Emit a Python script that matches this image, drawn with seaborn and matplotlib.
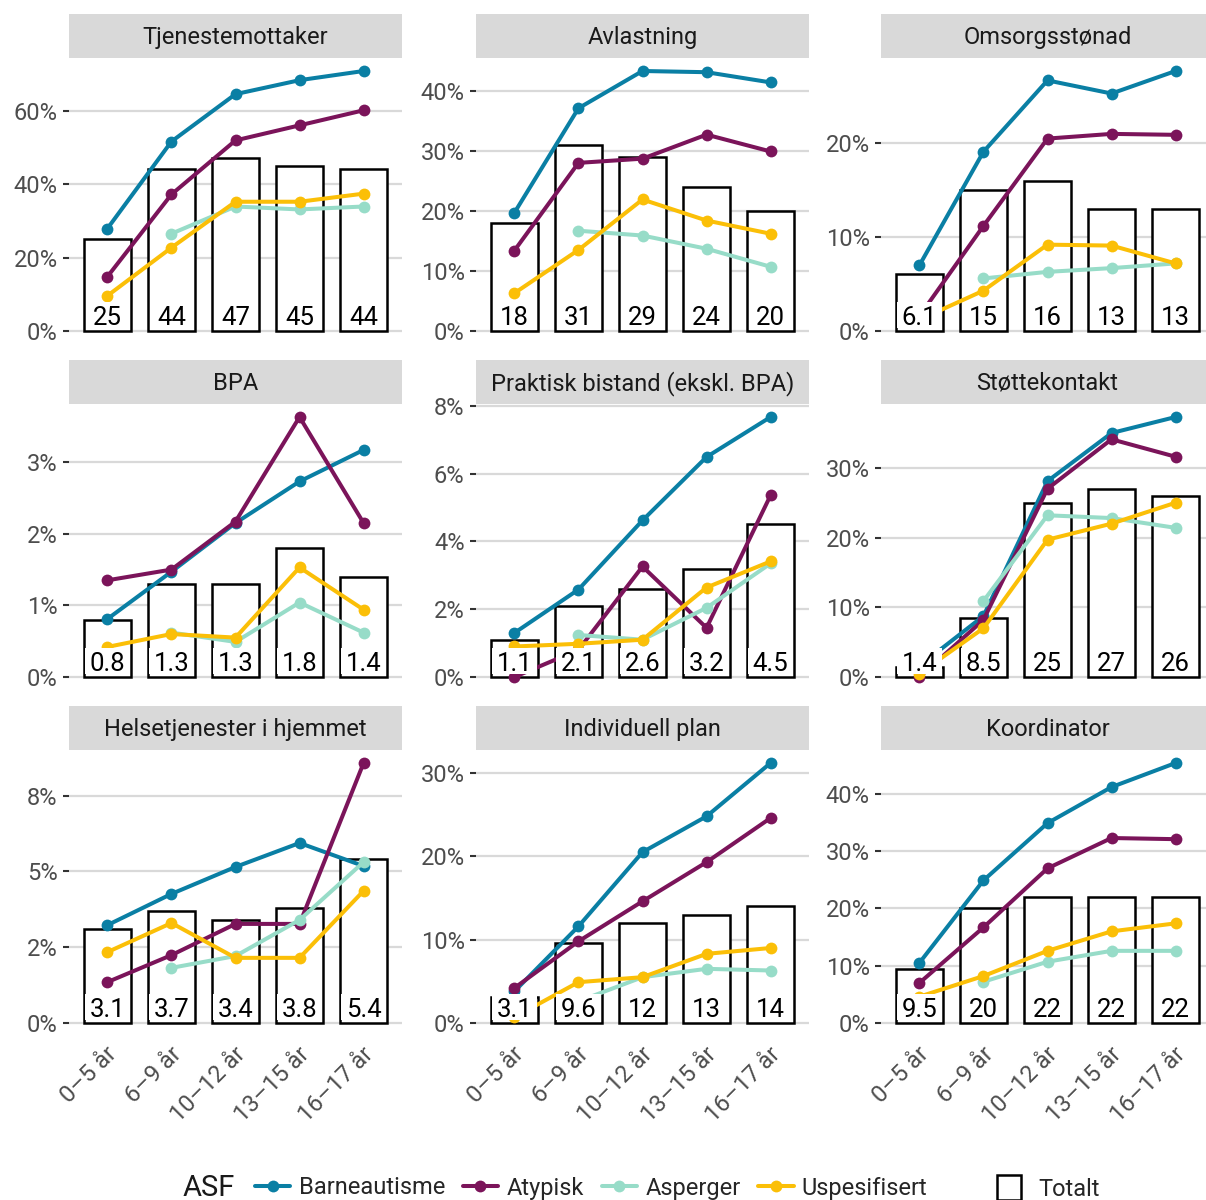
import numpy as np
import pandas as pd
import matplotlib
matplotlib.use("Agg")
import matplotlib.pyplot as plt
from matplotlib.lines import Line2D
from matplotlib.patches import Patch
from matplotlib.path import Path
from matplotlib.ticker import FixedLocator, FuncFormatter
from matplotlib.transforms import ScaledTranslation
import seaborn as sns

# Aldersgrupper og tjenester
ages = ["0–5 år", "6–9 år", "10–12 år", "13–15 år", "16–17 år"]
panels = ["Tjenestemottaker", "Avlastning", "Omsorgsstønad",
          "BPA", "Praktisk bistand (ekskl. BPA)", "Støttekontakt",
          "Helsetjenester i hjemmet", "Individuell plan", "Koordinator"]

grupper = ["Barneautisme", "Atypisk", "Asperger", "Uspesifisert"]
farger = ["#0a7fa4", "#7b145a", "#97dcc8", "#fbbf07"]

nan = np.nan
# Andel (%) per tjeneste (rader) og aldersgruppe (kolonner)
barneautisme = [
    [27.9, 51.6, 64.5, 68.3, 70.8],
    [19.7, 37.1, 43.3, 43.1, 41.4],
    [7.0, 19.1, 26.7, 25.3, 27.7],
    [0.81, 1.47, 2.15, 2.73, 3.17],
    [1.30, 2.58, 4.62, 6.49, 7.67],
    [1.6, 8.75, 28.1, 35.0, 37.3],
    [3.23, 4.26, 5.15, 5.94, 5.18],
    [3.8, 11.6, 20.5, 24.8, 31.2],
    [10.5, 24.9, 34.9, 41.2, 45.4],
]
atypisk = [
    [14.8, 37.2, 51.9, 56.0, 60.1],
    [13.4, 28.0, 28.7, 32.7, 29.9],
    [1.6, 11.2, 20.5, 21.0, 20.9],
    [1.35, 1.50, 2.17, 3.63, 2.15],
    [0.0, 0.8, 3.26, 1.45, 5.36],
    [0.0, 8.2, 27.0, 34.1, 31.6],
    [1.35, 2.24, 3.27, 3.27, 8.58],
    [4.2, 9.8, 14.6, 19.3, 24.6],
    [7.0, 16.7, 27.0, 32.3, 32.1],
]
asperger = [
    [nan, 26.5, 33.9, 33.1, 33.9],
    [nan, 16.7, 15.9, 13.7, 10.7],
    [nan, 5.6, 6.3, 6.7, 7.2],
    [nan, 0.62, 0.49, 1.04, 0.62],
    [nan, 1.24, 1.10, 2.04, 3.35],
    [nan, 10.9, 23.2, 22.8, 21.4],
    [nan, 1.82, 2.21, 3.40, 5.31],
    [nan, 2.6, 5.5, 6.5, 6.3],
    [nan, 7.2, 10.7, 12.6, 12.6],
]
uspesifisert = [
    [9.6, 22.7, 35.2, 35.2, 37.4],
    [6.3, 13.5, 21.9, 18.4, 16.2],
    [1.2, 4.3, 9.2, 9.1, 7.2],
    [0.42, 0.60, 0.55, 1.53, 0.94],
    [0.90, 0.98, 1.10, 2.64, 3.41],
    [0.5, 7.0, 19.7, 22.0, 25.0],
    [2.34, 3.30, 2.15, 2.15, 4.36],
    [0.7, 4.9, 5.5, 8.3, 9.0],
    [4.6, 8.2, 12.6, 16.0, 17.4],
]
totalt = [
    [25, 44, 47, 45, 44],
    [18, 31, 29, 24, 20],
    [6.1, 15, 16, 13, 13],
    [0.8, 1.3, 1.3, 1.8, 1.4],
    [1.1, 2.1, 2.6, 3.2, 4.5],
    [1.4, 8.5, 25, 27, 26],
    [3.1, 3.7, 3.4, 3.8, 5.4],
    [3.1, 9.6, 12, 13, 14],
    [9.5, 20, 22, 22, 22],
]
tick_steps = [20, 10, 10, 1, 2, 10, 2.5, 10, 10]

sns.set_theme(style="white")
plt.rcParams["font.family"] = ["Roboto", "DejaVu Sans"]

W, H = 1206, 1200
fig = plt.figure(figsize=(W / 100, H / 100), dpi=100)

col_x = [69, 476, 881]
row_top = [58, 404, 750]
pw, ph = 333, 286
strip_h = 44


def fig_rect(x, y, w, h):
    """Pixel box with top-left origin -> figure fraction rect."""
    return [x / W, 1 - (y + h) / H, w / W, h / H]


def label_box(x0, y0, width, height, mutation_size):
    """White label background that leaves out most of the text descent."""
    pad = 0.17 * mutation_size
    bottom = y0 + 0.06 * mutation_size
    top = y0 + height + pad
    left, right = x0 - pad, x0 + width + pad
    return Path([(left, bottom), (right, bottom), (right, top),
                 (left, top), (left, bottom)], closed=True)


serier = [barneautisme, atypisk, asperger, uspesifisert]
pct = FuncFormatter(lambda v, p: f"{round(v)}%")

for k, name in enumerate(panels):
    r, c = divmod(k, 3)
    ax = fig.add_axes(fig_rect(col_x[c], row_top[r], pw, ph))
    sax = fig.add_axes(fig_rect(col_x[c], row_top[r] - strip_h, pw, strip_h))

    # facet strip
    sax.set_facecolor("#d9d9d9")
    sax.set_xticks([])
    sax.set_yticks([])
    for s in sax.spines.values():
        s.set_visible(False)
    sax.text(0.5, 0.47, name, transform=sax.transAxes, ha="center",
             va="center", fontsize=17, color="#1a1a1a")

    tot = pd.DataFrame({"x": range(len(ages)), "andel": totalt[k]})
    rows = []
    for g, s in zip(grupper, serier):
        for i, v in enumerate(s[k]):
            rows.append({"x": i, "andel": v, "gruppe": g})
    long = pd.DataFrame(rows).dropna()

    sns.barplot(data=tot, x="x", y="andel", native_scale=True, width=0.73,
                color="white", saturation=1, edgecolor="black", linewidth=1.8,
                errorbar=None, ax=ax, zorder=2)
    sns.lineplot(data=long, x="x", y="andel", hue="gruppe", hue_order=grupper,
                 palette=farger, marker="o", markersize=8.5, markeredgewidth=0,
                 linewidth=2.9, legend=False, errorbar=None, sort=False,
                 ax=ax, zorder=3)

    for i, v in enumerate(totalt[k]):
        ax.annotate(f"{v:.2g}", xy=(i, 0), xytext=(0, 6),
                    textcoords="offset pixels", ha="center", va="baseline",
                    fontsize=18.5, color="black", zorder=6,
                    bbox=dict(boxstyle=label_box, fc="white", ec="none"))

    vals = np.concatenate([np.asarray(s[k], float) for s in serier] +
                          [np.asarray(totalt[k], float)])
    lo = min(0.0, np.nanmin(vals))
    hi = np.nanmax(vals)
    span = hi - lo
    ax.set_ylim(lo - 0.05 * span, hi + 0.05 * span)
    ax.set_xlim(-0.6, len(ages) - 0.4)

    step = tick_steps[k]
    ax.yaxis.set_major_locator(FixedLocator(np.arange(0, hi + 0.05 * span, step)))
    ax.yaxis.set_major_formatter(pct)
    ax.set_axisbelow(True)
    ax.yaxis.grid(True, color="#d9d9d9", linewidth=1.6)
    ax.xaxis.grid(False)
    for s in ax.spines.values():
        s.set_visible(False)
    ax.set_xlabel("")
    ax.set_ylabel("")
    ax.tick_params(axis="y", left=True, length=4.2, width=1.5, color="#333333",
                   labelsize=17, labelcolor="#4d4d4d", pad=4)
    ax.tick_params(axis="x", bottom=False, length=0, labelsize=17,
                   labelcolor="#4d4d4d", pad=5)
    ax.set_xticks(range(len(ages)))
    if r == 2:
        ax.set_xticklabels(ages, rotation=45, ha="right", va="top",
                           rotation_mode="anchor")
        for lab in ax.get_xticklabels():
            lab.set_transform(lab.get_transform() +
                              ScaledTranslation(-0.02, 0, fig.dpi_scale_trans))
    else:
        ax.set_xticklabels([])

# legends
ly = 1 - 1188 / H
fig.text(183 / W, ly, "ASF", fontsize=21, va="center", ha="left",
         color="#1a1a1a")
line_handles = [Line2D([0], [0], color=c, lw=2.9, marker="o", ms=8.5, mew=0)
                for c in farger]
fig.legend(line_handles, grupper, loc="center left",
           bbox_to_anchor=(255 / W, ly), ncol=4, frameon=False, fontsize=17,
           handlelength=1.5, handletextpad=0.35, columnspacing=0.75,
           borderpad=0, borderaxespad=0)
fig.legend([Patch(fc="white", ec="black", lw=1.8)], ["Totalt"],
           loc="center left", bbox_to_anchor=(997 / W, ly), frameon=False,
           fontsize=17, handlelength=1.0, handleheight=1.2,
           handletextpad=0.75, borderpad=0, borderaxespad=0)

fig.savefig("out.png", dpi=100)
